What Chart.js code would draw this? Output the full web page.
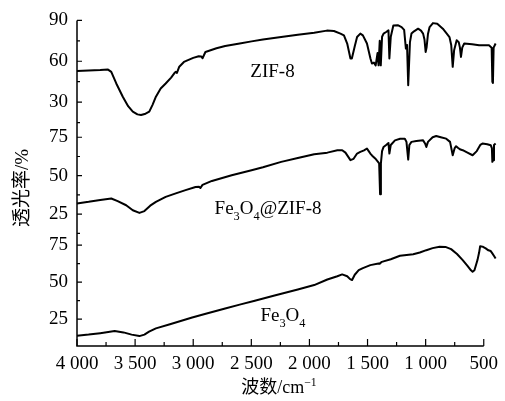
<!DOCTYPE html>
<html>
<head>
<meta charset="utf-8">
<script src="https://cdn.jsdelivr.net/npm/chart.js@4.4.0/dist/chart.umd.min.js"></script>
<style>
  html, body { margin: 0; padding: 0; background: #fff; }
  #wrap { width: 505px; height: 401px; position: relative; }
</style>
</head>
<body>
<div id="wrap"><canvas id="ftir"></canvas></div>
<script>
// ── Wavenumber axis ──
const xTicks = [4000, 3500, 3000, 2500, 2000, 1500, 1000, 500];
const xMinorTicks = [3750, 3250, 2750, 2250, 1750, 1250, 750];

// ── Transmittance ticks, one set per panel ──
const topTicks = [30, 60, 90];
const topMinor = [15, 45, 75];
const midTicks = [25, 50, 75];
const midMinor = [12.5, 37.5, 62.5];
const botTicks = [25, 50, 75];
const botMinor = [37.5, 62.5];

// ── ZIF-8 ──
const zifWave = [4000, 3900, 3800, 3733, 3705, 3662, 3606, 3560, 3520, 3480, 3449, 3410, 3378, 3350, 3321, 3280, 3237, 3190, 3160, 3151, 3140, 3120, 3080, 3000, 2953, 2930, 2920, 2895, 2800, 2725, 2600, 2498, 2400, 2243, 2100, 1959, 1850, 1789, 1733, 1703, 1675, 1647, 1635, 1610, 1590, 1562, 1540, 1505, 1475, 1462, 1445, 1430, 1414, 1405, 1395, 1386, 1375, 1362, 1340, 1320, 1312, 1300, 1278, 1240, 1207, 1185, 1170, 1160, 1150, 1144, 1135, 1122, 1100, 1065, 1040, 1022, 1010, 1000, 992, 980, 966, 937, 900, 852, 820, 795, 780, 767, 755, 733, 715, 705, 696, 685, 668, 600, 540, 455, 432, 426, 421, 415, 398];
const zifT = [52.9, 53.2, 53.5, 53.9, 52.2, 43.7, 33.9, 27, 23, 21, 20.5, 21.5, 23, 28, 34, 40, 43.7, 48, 51.5, 52.2, 51.5, 56, 59.5, 62.5, 63.7, 63.5, 62.2, 66.8, 69.5, 71.2, 73, 74.6, 76, 77.8, 79.5, 81, 82.5, 82.2, 80.3, 79, 73, 62, 62, 71, 77.8, 80.3, 79, 73, 62, 58.3, 59, 57, 66, 57, 75, 57, 78, 80.3, 81.5, 82.7, 62, 78, 86.3, 86.5, 85.1, 83, 69.3, 72, 42.4, 42.4, 74, 80.3, 82, 83.9, 82.5, 80.3, 76, 66.8, 70, 80, 85.1, 88, 87.5, 83.9, 80.5, 77.8, 72, 55.9, 68, 75.4, 74, 70, 63.2, 70, 73, 72.5, 71.7, 71.7, 70, 44.9, 44.1, 70, 73];

// ── Fe3O4@ZIF-8 ──
const compWave = [4000, 3900, 3800, 3705, 3650, 3577, 3520, 3463, 3420, 3370, 3321, 3237, 3150, 3066, 2980, 2950, 2938, 2920, 2839, 2669, 2498, 2400, 2243, 2100, 1959, 1846, 1760, 1718, 1690, 1647, 1620, 1590, 1562, 1530, 1505, 1490, 1476, 1460, 1434, 1410, 1400, 1392, 1385, 1375, 1362, 1340, 1320, 1312, 1300, 1264, 1220, 1179, 1165, 1150, 1140, 1122, 1080, 1022, 1005, 994, 980, 940, 909, 870, 823, 790, 767, 750, 738, 720, 700, 681, 640, 596, 560, 530, 511, 470, 440, 430, 426, 420, 412, 398];
const compT = [32, 33, 34.2, 35.2, 33.5, 30.8, 27.5, 25.8, 27, 30.5, 33, 36.2, 38.5, 40.6, 42.7, 42.8, 42, 44, 46.6, 50.3, 53.6, 55.5, 59, 61.5, 64, 65, 66.5, 66.6, 65, 60.1, 61, 64.4, 65.5, 66.5, 67.7, 66, 64.4, 63, 61.2, 59, 58, 38, 58, 66, 68.7, 70, 71.3, 64.4, 70, 73, 74, 74, 72, 60.5, 70, 72, 72.5, 73, 71, 68.7, 72, 75, 75.8, 75, 74.1, 72, 63.3, 68, 69.2, 68, 67, 66.6, 65, 63.3, 66, 70, 70.9, 70.5, 69.8, 68, 59, 60, 70, 70.9];

// ── Fe3O4 ──
const feWave = [4000, 3900, 3800, 3676, 3600, 3530, 3463, 3420, 3380, 3321, 3200, 3009, 2900, 2725, 2600, 2470, 2300, 2100, 1959, 1846, 1760, 1718, 1675, 1650, 1633, 1610, 1576, 1540, 1476, 1406, 1395, 1377, 1300, 1221, 1107, 1050, 994, 940, 880, 830, 781, 730, 681, 640, 610, 596, 580, 554, 540, 531, 510, 483, 460, 440, 426, 410, 398];
const feT = [13.7, 14.5, 15.5, 16.9, 16, 14.5, 13.5, 14.5, 16.5, 18.7, 21.5, 26.1, 28.5, 32.2, 34.8, 37.4, 41, 45, 48, 51.8, 54, 55.2, 54, 52, 51.4, 55, 58.1, 59.5, 61.5, 62.6, 62.5, 63.7, 65.5, 67.8, 68.9, 70, 71.6, 73, 73.9, 73.8, 72.3, 69, 64.9, 61, 58, 57, 58, 64.9, 70, 74.3, 74, 72.8, 71.5, 71, 69.4, 67.5, 66];

const SERIF = "'Liberation Serif', 'Times New Roman', serif";
const CJK = "'Noto Sans CJK SC', 'Noto Sans CJK JP', sans-serif";

function pts(wave, t) {
  return wave.map((w, i) => ({ x: w, y: t[i] }));
}

function fmtWave(v) {
  if (v < 1000) return String(v);
  return Math.floor(v / 1000) + ' ' + String(v % 1000).padStart(3, '0');
}

function fixTicks(list) {
  return axis => { axis.ticks = list.map(v => ({ value: v })); };
}

function yAxis(min, max, list, weight, stackWeight) {
  return {
    type: 'linear', position: 'left', stack: 'ftir', stackWeight, weight,
    min, max,
    afterBuildTicks: fixTicks(list),
    afterFit: s => { s.width = 77; },
    grid: { display: false, drawTicks: false, tickLength: 0 },
    border: { display: false },
    ticks: { color: '#000', font: { family: SERIF, size: 19 }, padding: 9 }
  };
}

// ── Rich text: [text, 0 normal | 1 sub | 2 sup, font] ──
function drawRich(ctx, parts, cx, cy, size) {
  const fontOf = p => ((p[1] ? size * 0.65 : size) + 'px ' + (p[2] || SERIF));
  let w = 0;
  parts.forEach(p => { ctx.font = fontOf(p); w += ctx.measureText(p[0]).width; });
  let x = cx - w / 2;
  const base = cy + size * 0.33;
  ctx.textAlign = 'left';
  ctx.textBaseline = 'alphabetic';
  parts.forEach(p => {
    ctx.font = fontOf(p);
    const dy = p[1] === 1 ? size * 0.3 : p[1] === 2 ? -size * 0.38 : 0;
    ctx.fillText(p[0], x, base + dy);
    x += ctx.measureText(p[0]).width;
  });
}

const axesPlugin = {
  id: 'axesAndText',
  afterDraw(chart) {
    const { ctx, chartArea: a, scales } = chart;
    ctx.save();
    ctx.strokeStyle = '#000';
    ctx.fillStyle = '#000';

    // axis lines
    ctx.lineWidth = 1.5;
    ctx.beginPath();
    ctx.moveTo(a.left, a.top);
    ctx.lineTo(a.left, a.bottom);
    ctx.lineTo(a.right, a.bottom);
    ctx.stroke();

    // inward tick marks
    ctx.lineWidth = 1.2;
    ctx.beginPath();
    const xs = scales.x;
    xTicks.forEach(v => { const p = xs.getPixelForValue(v); ctx.moveTo(p, a.bottom); ctx.lineTo(p, a.bottom - 7); });
    xMinorTicks.forEach(v => { const p = xs.getPixelForValue(v); ctx.moveTo(p, a.bottom); ctx.lineTo(p, a.bottom - 4); });
    [[scales.yTop, topTicks, topMinor], [scales.yMid, midTicks, midMinor], [scales.yBot, botTicks, botMinor]].forEach(([s, major, minor]) => {
      major.forEach(v => { const p = s.getPixelForValue(v); ctx.moveTo(a.left, p); ctx.lineTo(a.left + 5, p); });
      minor.forEach(v => { const p = s.getPixelForValue(v); ctx.moveTo(a.left, p); ctx.lineTo(a.left + 3, p); });
    });
    ctx.stroke();

    // sample labels
    drawRich(ctx, [['ZIF-8', 0]], xs.getPixelForValue(2318), scales.yTop.getPixelForValue(52.8), 19);
    drawRich(ctx, [['Fe', 0], ['3', 1], ['O', 0], ['4', 1], ['@ZIF-8', 0]], xs.getPixelForValue(2356), scales.yMid.getPixelForValue(28.9), 19);
    drawRich(ctx, [['Fe', 0], ['3', 1], ['O', 0], ['4', 1]], xs.getPixelForValue(2228), scales.yBot.getPixelForValue(27.7), 19);

    // axis titles
    drawRich(ctx, [['波数', 0, CJK], ['/cm', 0], ['−1', 2]], 279, 387, 18);
    ctx.translate(22, 188);
    ctx.rotate(-Math.PI / 2);
    drawRich(ctx, [['透光率', 0, CJK], ['/%', 0]], 0, 0, 19);
    ctx.restore();
  }
};

function series(label, wave, t, axis) {
  return {
    label, data: pts(wave, t), yAxisID: axis,
    borderColor: '#000', borderWidth: 2, pointRadius: 0,
    tension: 0, borderJoinStyle: 'round', clip: false
  };
}

new Chart(document.getElementById('ftir'), {
  type: 'line',
  data: {
    datasets: [
      series('ZIF-8', zifWave, zifT, 'yTop'),
      series('Fe3O4@ZIF-8', compWave, compT, 'yMid'),
      series('Fe3O4', feWave, feT, 'yBot')
    ]
  },
  options: {
    responsive: true, maintainAspectRatio: false, animation: false,
    layout: { padding: { left: 0, top: 20, right: 17, bottom: 0 } },
    plugins: { legend: { display: false }, tooltip: { enabled: false } },
    scales: {
      x: {
        type: 'linear', reverse: true, min: 500, max: 4000,
        afterBuildTicks: fixTicks(xTicks),
        afterFit: s => { s.height = 55; },
        grid: { display: false, drawTicks: false, tickLength: 0 },
        border: { display: false },
        ticks: { color: '#000', font: { family: SERIF, size: 19 }, padding: 7, autoSkip: false, maxRotation: 0, callback: v => fmtWave(v) }
      },
      yBot: yAxis(6.8, 83.8, botTicks, 1, 114),
      yMid: yAxis(13.3, 82.8, midTicks, 2, 107),
      yTop: yAxis(13, 90, topTicks, 3, 105)
    }
  },
  plugins: [axesPlugin]
});
</script>
</body>
</html>
